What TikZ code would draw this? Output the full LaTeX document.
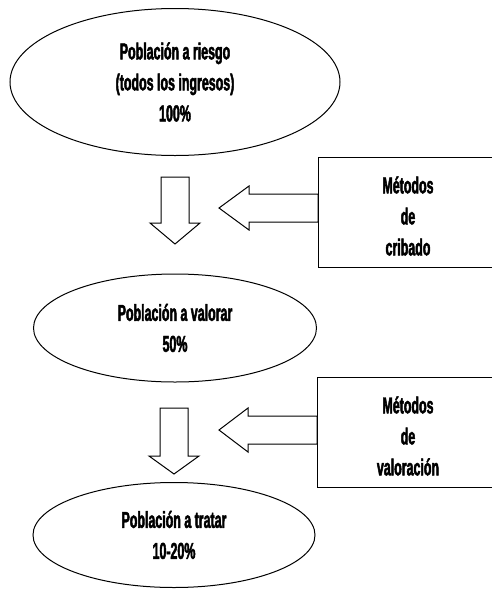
\documentclass[tikz,border=0pt]{standalone}
\usepackage{fontspec}
\newfontfamily\estrecha[FakeStretch=0.54,FakeBold=2]{Liberation Sans}
\usetikzlibrary{shapes.geometric}

\tikzset{
	texto/.style={align=center,font=\estrecha\bfseries\fontsize{23}{31}\selectfont},
	poblacion/.style={texto,ellipse,draw,line width=1pt,inner sep=0pt},
	metodo/.style={rectangle,draw,line width=1pt,fill=white,inner sep=0pt,minimum width=220pt,minimum height=110pt},
	hueca/.style={draw,line width=1pt,fill=white,line join=miter}
}

\begin{document}
\begin{tikzpicture}[x=1pt,y=1pt]

		\useasboundingbox (0,0) rectangle (492,-590);

		% poblaciones
		\node[poblacion,minimum width=330pt,minimum height=147pt] (riesgo)  at (175,-82)
			{Población a riesgo\\(todos los ingresos)\\100\%};
		\node[poblacion,minimum width=283pt,minimum height=108pt] (valorar) at (175,-328)
			{Población a valorar\\50\%};
		\node[poblacion,minimum width=282pt,minimum height=105pt] (tratar)  at (174,-535)
			{Población a tratar\\10-20\%};

		% flechas hacia abajo
		\coordinate (baja1) at (175,-177);
		\coordinate (baja2) at (174,-408);

		\draw[hueca] (baja1)++(-14,0) -- ++(28,0) -- ++(0,-46) -- ++(11,0)
			-- (175,-244) -- ++(-25,21) -- ++(11,0) -- cycle;
		\draw[hueca] (baja2)++(-14,0) -- ++(28,0) -- ++(0,-48) -- ++(11,0)
			-- (174,-474) -- ++(-25,18) -- ++(11,0) -- cycle;

		% flechas desde los metodos
		\coordinate (entra1) at (318,-208);
		\coordinate (entra2) at (317,-430);

		\draw[hueca] (entra1)++(0,14) -- ++(-69,0) -- ++(0,8)
			-- (219,-208) -- ++(30,-22) -- ++(0,8) -- ++(69,0) -- cycle;
		\draw[hueca] (entra2)++(0,14) -- ++(-69,0) -- ++(0,8)
			-- (219,-430) -- ++(29,-22) -- ++(0,8) -- ++(69,0) -- cycle;

		% metodos
		\node[metodo,anchor=west] (cribado)    at (318,-212) {};
		\node[texto] (cribadotxt) at (408,-216) {Métodos\\de\\cribado};
		\node[metodo,anchor=west] (valoracion) at (317,-432.5) {};
		\node[texto] (valoraciontxt) at (408,-436) {Métodos\\de\\valoración};

	\end{tikzpicture}
\end{document}
